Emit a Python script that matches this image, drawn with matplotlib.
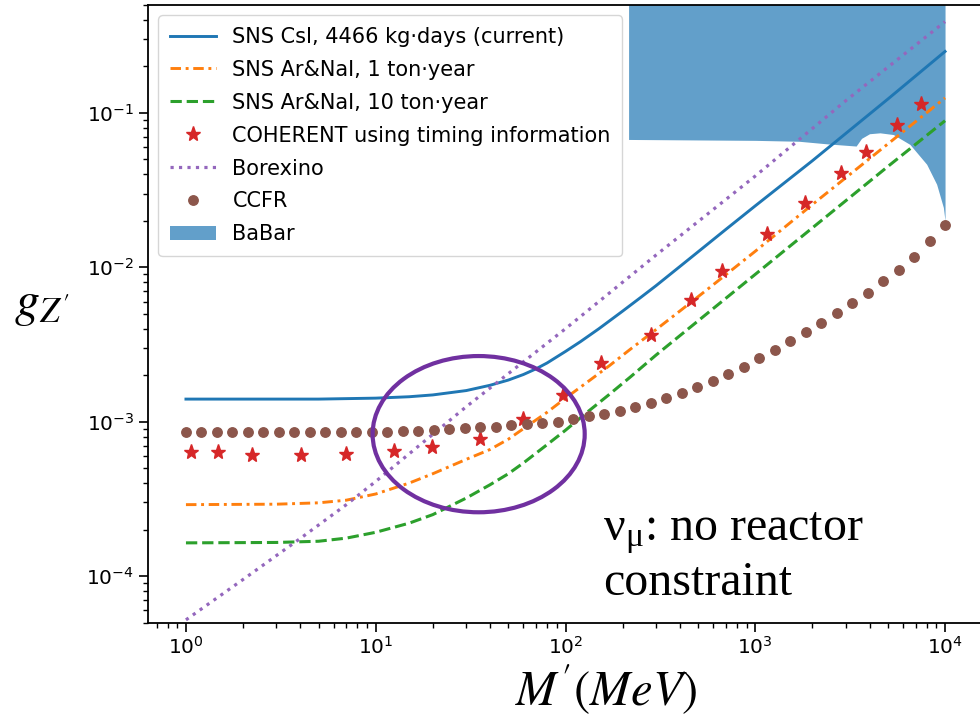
import numpy as np
import matplotlib.pyplot as plt
from matplotlib.patches import Ellipse

# serif math text for the annotation, STIX italic for the axis symbols
plt.rcParams['mathtext.fontset'] = 'custom'
plt.rcParams['mathtext.rm'] = 'Liberation Serif'
plt.rcParams['mathtext.it'] = 'Liberation Serif:italic'

# SNS CsI, 4466 kg*days (current)
csi_mass = [1, 5, 10, 15, 20, 30, 40, 50, 60, 70, 80, 100, 120, 150, 200, 250, 300,
            400, 500, 700, 1000, 2000, 5000, 10000]
csi_g = [1.40e-3, 1.40e-3, 1.42e-3, 1.45e-3, 1.49e-3, 1.59e-3, 1.72e-3, 1.86e-3, 2.02e-3,
         2.2e-3, 2.4e-3, 2.85e-3, 3.3e-3, 4.0e-3, 5.2e-3, 6.4e-3, 7.6e-3, 1.01e-2, 1.26e-2,
         1.76e-2, 2.5e-2, 4.9e-2, 0.123, 0.25]

# SNS Ar&NaI, 1 ton*year
ar1_mass = [1, 3, 5, 7, 10, 15, 20, 30, 40, 50, 60, 80, 100, 130, 170, 220, 300,
            400, 600, 1000, 2000, 5000, 10000]
ar1_g = [2.9e-4, 2.92e-4, 2.98e-4, 3.1e-4, 3.4e-4, 4.0e-4, 4.6e-4, 5.7e-4, 6.6e-4, 7.7e-4,
         9.0e-4, 1.15e-3, 1.42e-3, 1.8e-3, 2.3e-3, 2.95e-3, 3.95e-3, 5.2e-3, 7.7e-3, 1.27e-2,
         2.55e-2, 6.3e-2, 0.125]

# SNS Ar&NaI, 10 ton*year
ar10_mass = [1, 3, 5, 7, 10, 15, 20, 30, 40, 50, 60, 80, 100, 130, 170, 220, 300,
             400, 600, 1000, 2000, 5000, 10000]
ar10_g = [1.64e-4, 1.65e-4, 1.68e-4, 1.76e-4, 1.92e-4, 2.2e-4, 2.5e-4, 3.2e-4, 3.9e-4, 4.6e-4,
          5.4e-4, 7.1e-4, 8.8e-4, 1.15e-3, 1.5e-3, 1.95e-3, 2.7e-3, 3.6e-3, 5.4e-3, 9.0e-3,
          1.8e-2, 4.5e-2, 0.089]

# COHERENT with timing information
coh_mass = [1.06, 1.47, 2.24, 4.06, 7.01, 12.5, 19.8, 35.5, 59.5, 97.6,
            153, 281, 460, 668, 1154, 1824, 2818, 3829, 5600, 7470]
coh_g = [6.4e-4, 6.4e-4, 6.1e-4, 6.1e-4, 6.2e-4, 6.5e-4, 6.9e-4, 7.7e-4, 1.04e-3, 1.49e-3,
         2.39e-3, 3.62e-3, 6.1e-3, 9.4e-3, 1.64e-2, 2.59e-2, 4.1e-2, 5.6e-2, 8.3e-2, 0.114]

# Borexino
bx_mass = [1, 2, 4, 7, 10, 30, 100, 300, 1000, 3000, 10000]
bx_g = [5.2e-5, 9.5e-5, 1.75e-4, 2.9e-4, 4.1e-4, 1.25e-3, 4.0e-3, 1.2e-2, 3.9e-2, 0.12, 0.39]

# CCFR
ccfr_mass = [1.0, 1.207, 1.456, 1.758, 2.121, 2.560, 3.089, 3.728, 4.499, 5.429,
             6.551, 7.906, 9.541, 11.51, 13.89, 16.77, 20.24, 24.42, 29.47, 35.56,
             42.92, 51.79, 62.51, 75.43, 91.03, 109.9, 132.6, 160.0, 193.1, 233.0,
             281.2, 339.3, 409.5, 494.2, 596.4, 719.7, 868.5, 1048, 1265, 1526,
             1842, 2223, 2683, 3237, 3907, 4715, 5690, 6866, 8286, 10000]
ccfr_g = [8.6e-4] * 14 + [
    8.65e-4, 8.7e-4, 8.8e-4, 8.9e-4, 9.05e-4, 9.2e-4, 9.3e-4, 9.45e-4, 9.6e-4, 9.8e-4,
    1.0e-3, 1.04e-3, 1.08e-3, 1.12e-3, 1.18e-3, 1.24e-3, 1.33e-3, 1.42e-3, 1.54e-3, 1.68e-3,
    1.84e-3, 2.03e-3, 2.27e-3, 2.57e-3, 2.90e-3, 3.32e-3, 3.81e-3, 4.36e-3, 5.05e-3, 5.86e-3,
    6.84e-3, 8.09e-3, 9.67e-3, 1.17e-2, 1.47e-2, 1.88e-2]

# BaBar excluded region (lower edge)
babar_mass = [215, 500, 1000, 1700, 2400, 3400, 3630, 4000, 4540, 5340, 6530, 8000, 9030, 9800, 10000]
babar_g = [0.0673, 0.0668, 0.0664, 0.0655, 0.063, 0.061, 0.0684, 0.0733, 0.0743, 0.0724,
           0.0625, 0.0465, 0.0345, 0.0244, 0.020]

fig = plt.figure(figsize=(9.8, 7.21), dpi=100)
ax = fig.add_axes([148 / 980, 1 - 622.5 / 721, 835 / 980, 617.5 / 721])

babar = ax.fill_between(babar_mass, babar_g, 1, color='tab:blue', alpha=0.7, lw=0, label='BaBar')
l_csi, = ax.plot(csi_mass, csi_g, '-', color='tab:blue', lw=2.1,
                 label='SNS CsI, 4466 kg\u00b7days (current)')
l_ar1, = ax.plot(ar1_mass, ar1_g, color='tab:orange', lw=2.1, ls=(0, (3.6, 1.6, 1.0, 1.6)),
                 label='SNS Ar&NaI, 1 ton\u00b7year')
l_ar10, = ax.plot(ar10_mass, ar10_g, '--', color='tab:green', lw=2.2,
                  label='SNS Ar&NaI, 10 ton\u00b7year')
l_coh, = ax.plot(coh_mass, coh_g, '*', ls='none', color='tab:red', ms=11,
                 label='COHERENT using timing information')
l_bx, = ax.plot(bx_mass, bx_g, ':', color='tab:purple', lw=2.3, label='Borexino')
l_ccfr, = ax.plot(ccfr_mass, ccfr_g, 'o', ls='none', color='tab:brown', ms=6.8, label='CCFR')

ax.set_xscale('log')
ax.set_yscale('log')
ax.set_xlim(10 ** -0.2, 10 ** 4.2)
ax.set_ylim(5e-5, 0.5)

ax.tick_params(which='major', labelsize=14.5, length=6.5, width=1.2)
ax.tick_params(which='minor', length=3.5, width=1.0)
for s in ax.spines.values():
    s.set_linewidth(1.3)

ax.legend(handles=[l_csi, l_ar1, l_ar10, l_coh, l_bx, l_ccfr, babar],
          loc='upper left', fontsize=15, handlelength=2.2, labelspacing=0.62,
          borderpad=0.55)

# highlighted low-mass region
ax.add_patch(Ellipse((0.396, 0.305), 0.254, 0.253, transform=ax.transAxes,
                     fill=False, ec='#7030a0', lw=3, clip_on=False, zorder=5))

fig.text(14 / 980, 1 - 305 / 721, r"$g_{Z'}$", fontsize=36, math_fontfamily='stix',
         ha='left', va='center')
fig.text(606 / 980, 1 - 690 / 721, r"$M'(MeV)$", fontsize=35, math_fontfamily='stix',
         ha='center', va='center')
fig.text(603 / 980, 1 - 540 / 721, "$\\mathrm{\\nu_{\\mu}}$: no reactor",
         fontsize=34.5, family='Liberation Serif', ha='left', va='baseline')
fig.text(603 / 980, 1 - 595 / 721, "constraint",
         fontsize=34.5, family='Liberation Serif', ha='left', va='baseline')

fig.savefig('out.png', dpi=100)
